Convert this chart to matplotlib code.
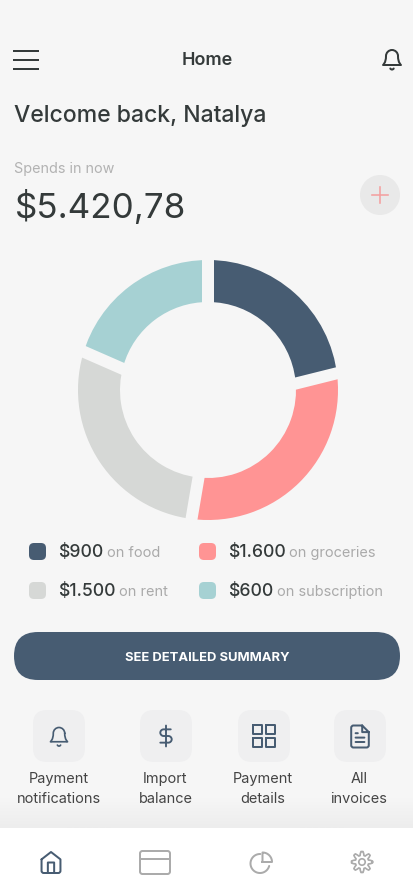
import numpy as np
import matplotlib
matplotlib.use("Agg")
import matplotlib.pyplot as plt
from matplotlib.colors import to_rgb
from matplotlib.patches import FancyBboxPatch, Circle, PathPatch, Rectangle
from matplotlib.path import Path

# ---- data ----
categories = ["food", "groceries", "rent", "subscription"]
amounts = ["$900", "$1.600", "$1.500", "$600"]
slice_shares = [23.3, 28.6, 27.5, 20.6]   # drawn share of the ring (%), as measured
gap_tilts = [-7.9, 2.8, 7.8, 0.0]         # lean of the gap after each slice (degrees)
colors = ["#475C72", "#FF9494", "#D6D8D6", "#A6D1D3"]
total_label = "$5.420,78"
tile_labels = [("Payment", "notifications"), ("Import", "balance"), ("Payment", "details"), ("All", "invoices")]

BG = "#F6F6F6"
DARK = "#343A3A"
GREY = "#B2B2B2"
NAVY = colors[0]
MUTED = "#ABABAB"
FONT = "Inter"
W, H = 414, 896
PX = 0.72  # px -> pt at dpi 100

fig = plt.figure(figsize=(W / 100, H / 100), dpi=100, facecolor=BG)
ax = fig.add_axes([0, 0, 1, 1], zorder=1)
ax.set_axis_off()


def text(x, y, s, px, color=DARK, ha="left", weight="normal"):
    ax.text(x, y, s, fontsize=px * PX, color=color, ha=ha, va="baseline",
            family=FONT, fontweight=weight)


def rrect(x0, y0, x1, y1, r, color):
    ax.add_patch(FancyBboxPatch((x0 + r, y0 + r), x1 - x0 - 2 * r, y1 - y0 - 2 * r,
                                boxstyle=f"round,pad={r},rounding_size={r}",
                                fc=color, ec="none"))


def icon(cx, cy, s, cmds, color, lw=1.6):
    verts, codes = [], []
    for c in cmds:
        if c[0] == "M":
            verts.append(c[1:3]); codes.append(Path.MOVETO)
        elif c[0] == "L":
            verts.append(c[1:3]); codes.append(Path.LINETO)
        elif c[0] == "C":
            verts += [c[1:3], c[3:5], c[5:7]]; codes += [Path.CURVE4] * 3
    v = (np.array(verts, float) - 12) * s + [cx, cy]
    ax.add_patch(PathPatch(Path(v, codes), fc="none", ec=color, lw=lw * PX,
                           capstyle="round", joinstyle="round"))


# ---- bottom shadow and tab bar ----
grad = np.linspace(0, 1, 30)[:, None, None]
bg_rgb, sh_rgb = np.array(to_rgb(BG)), np.array(to_rgb("#EDEDED"))
ax.imshow(bg_rgb + grad * (sh_rgb - bg_rgb), extent=(0, W, 828, 798), aspect="auto",
          interpolation="bilinear", zorder=0)
ax.add_patch(Rectangle((0, 828), W, 68, fc="white", ec="none"))

# ---- header ----
for y in (51, 60, 69):
    ax.plot([13, 39], [y, y], color=DARK, lw=2 * PX, solid_capstyle="butt")
text(207, 65, "Home", 18, ha="center", weight="semibold")

BELL = [("M", 18, 8), ("C", 18, 4.7, 15.3, 2, 12, 2), ("C", 8.7, 2, 6, 4.7, 6, 8),
        ("C", 6, 15, 3, 17, 3, 17), ("L", 21, 17), ("C", 21, 17, 18, 15, 18, 8),
        ("M", 13.7, 20.5), ("C", 13, 21.9, 11, 21.9, 10.3, 20.5)]
icon(392, 60, 1.0, BELL, DARK, 2.0)

text(14, 122, "Velcome back, Natalya", 23, weight="medium")
text(14, 173, "Spends in now", 14.4, color=GREY)
text(15, 218, total_label, 35)

ax.add_patch(Circle((380, 195), 20, fc="#E9E9E9", ec="none"))
ax.plot([372, 388], [195, 195], color="#F4A0A0", lw=1.6 * PX)
ax.plot([380, 380], [187, 203], color="#F4A0A0", lw=1.6 * PX)

# ---- legend ----
swatch_x = [29, 199, 29, 199]
swatch_y = [543, 543, 582, 582]
amount_x = [58, 228, 58, 228]
word_x = [107, 289, 119, 277]
for i, cat in enumerate(categories):
    rrect(swatch_x[i], swatch_y[i], swatch_x[i] + 17, swatch_y[i] + 17, 5, colors[i])
    base = swatch_y[i] + 14
    text(amount_x[i], base, amounts[i], 17.6, weight="medium")
    text(word_x[i], base, "on " + cat, 14.5, color="#AAAAAA")

# ---- button ----
rrect(14, 632, 400, 680, 24, NAVY)
text(207, 661, "SEE DETAILED SUMMARY", 13, color="white", ha="center", weight="bold")

# ---- tiles ----
tile_x = [33, 140, 238, 334]
label_x = [58.5, 165.5, 263, 359]
for x0, lx, (a, b) in zip(tile_x, label_x, tile_labels):
    rrect(x0, 710, x0 + 52, 762, 14, "#EFEFF0")
    text(lx, 783, a, 14.5, color="#444444", ha="center")
    text(lx, 803, b, 14.5, color="#444444", ha="center")

icon(59, 737, 0.95, BELL, NAVY, 1.7)
icon(166, 736, 0.95, [("M", 12, 1), ("L", 12, 23), ("M", 17, 5), ("L", 9.5, 5),
                      ("C", 7.6, 5, 6, 6.6, 6, 8.5), ("C", 6, 10.4, 7.6, 12, 9.5, 12),
                      ("L", 14.5, 12), ("C", 16.4, 12, 18, 13.6, 18, 15.5),
                      ("C", 18, 17.4, 16.4, 19, 14.5, 19), ("L", 6, 19)], NAVY, 1.9)
GRID = []
for gx, gy in ((3, 3), (14, 3), (14, 14), (3, 14)):
    GRID += [("M", gx, gy), ("L", gx + 7, gy), ("L", gx + 7, gy + 7), ("L", gx, gy + 7), ("L", gx, gy)]
icon(264, 736, 1.17, GRID, NAVY, 2.0)
icon(360, 736.5, 1.1, [("M", 14, 2), ("L", 6, 2), ("C", 4.9, 2, 4, 2.9, 4, 4), ("L", 4, 20),
                       ("C", 4, 21.1, 4.9, 22, 6, 22), ("L", 18, 22), ("C", 19.1, 22, 20, 21.1, 20, 20),
                       ("L", 20, 8), ("L", 14, 2), ("L", 14, 8), ("L", 20, 8),
                       ("M", 16, 13), ("L", 8, 13), ("M", 16, 17), ("L", 8, 17), ("M", 10, 9), ("L", 8, 9)],
     NAVY, 2.0)

# ---- tab bar icons ----
icon(51, 862.5, 1.05, [("M", 3, 9), ("L", 12, 2), ("L", 21, 9), ("L", 21, 20),
                       ("C", 21, 21.1, 20.1, 22, 19, 22), ("L", 5, 22), ("C", 3.9, 22, 3, 21.1, 3, 20),
                       ("L", 3, 9), ("M", 9, 22), ("L", 9, 12), ("L", 15, 12), ("L", 15, 22)], NAVY, 2.0)
ax.add_patch(FancyBboxPatch((143, 854), 24, 17, boxstyle="round,pad=3,rounding_size=2.5",
                            fc="none", ec=MUTED, lw=2 * PX))
ax.plot([140, 170], [859, 859], color=MUTED, lw=2 * PX)
# open circle plus the detached top-right quarter
a = np.radians(np.linspace(15, 272, 70))
ax.plot(260 + 9.5 * np.cos(a), 863.5 + 9.5 * np.sin(a), color=MUTED, lw=2 * PX, solid_capstyle="round")
a = np.radians(np.linspace(-90, 0, 20))
ax.plot(np.r_[262.5, 262.5 + 9.5 * np.cos(a), 262.5], np.r_[862, 862 + 9.5 * np.sin(a), 862],
        color=MUTED, lw=2 * PX, solid_joinstyle="round")
# gear
n = 8
ang = np.linspace(0, 2 * np.pi, 8 * n + 1)
rad = 8.6 + 1.9 * np.clip(2.2 * np.cos(n * ang), -1, 1)
ax.plot(362 + rad * np.cos(ang), 862 + rad * np.sin(ang), color=MUTED, lw=1.7 * PX, solid_joinstyle="round")
ax.add_patch(Circle((362, 862), 3.2, fc="none", ec=MUTED, lw=1.7 * PX))

ax.set_xlim(0, W)
ax.set_ylim(H, 0)

# ---- donut ----
CX, CY, R_OUT, R_IN, GAP = 208, 390, 130, 88, 12
ax2 = fig.add_axes([(CX - R_OUT) / W, (H - CY - R_OUT) / H, 2 * R_OUT / W, 2 * R_OUT / H], zorder=2)
ax2.pie(slice_shares, colors=colors, startangle=90, counterclock=False, radius=1,
        wedgeprops=dict(width=(R_OUT - R_IN) / R_OUT, edgecolor="none"))
# background-coloured gaps, placed at the slice boundaries
bounds = np.cumsum(slice_shares) / np.sum(slice_shares) * 360
r_mid = (R_OUT + R_IN) / 2 / R_OUT
half = 36 / R_OUT
for b, tilt in zip(bounds, gap_tilts):
    t, d = np.radians(b), np.radians(b + tilt)
    mx, my = r_mid * np.sin(t), r_mid * np.cos(t)
    ax2.plot([mx - half * np.sin(d), mx + half * np.sin(d)],
             [my - half * np.cos(d), my + half * np.cos(d)],
             color=BG, lw=GAP * PX, solid_capstyle="butt", clip_on=False)
ax2.set_xlim(-1, 1)
ax2.set_ylim(-1, 1)
ax2.set_axis_off()

fig.savefig("out.png", dpi=100, facecolor=BG)
